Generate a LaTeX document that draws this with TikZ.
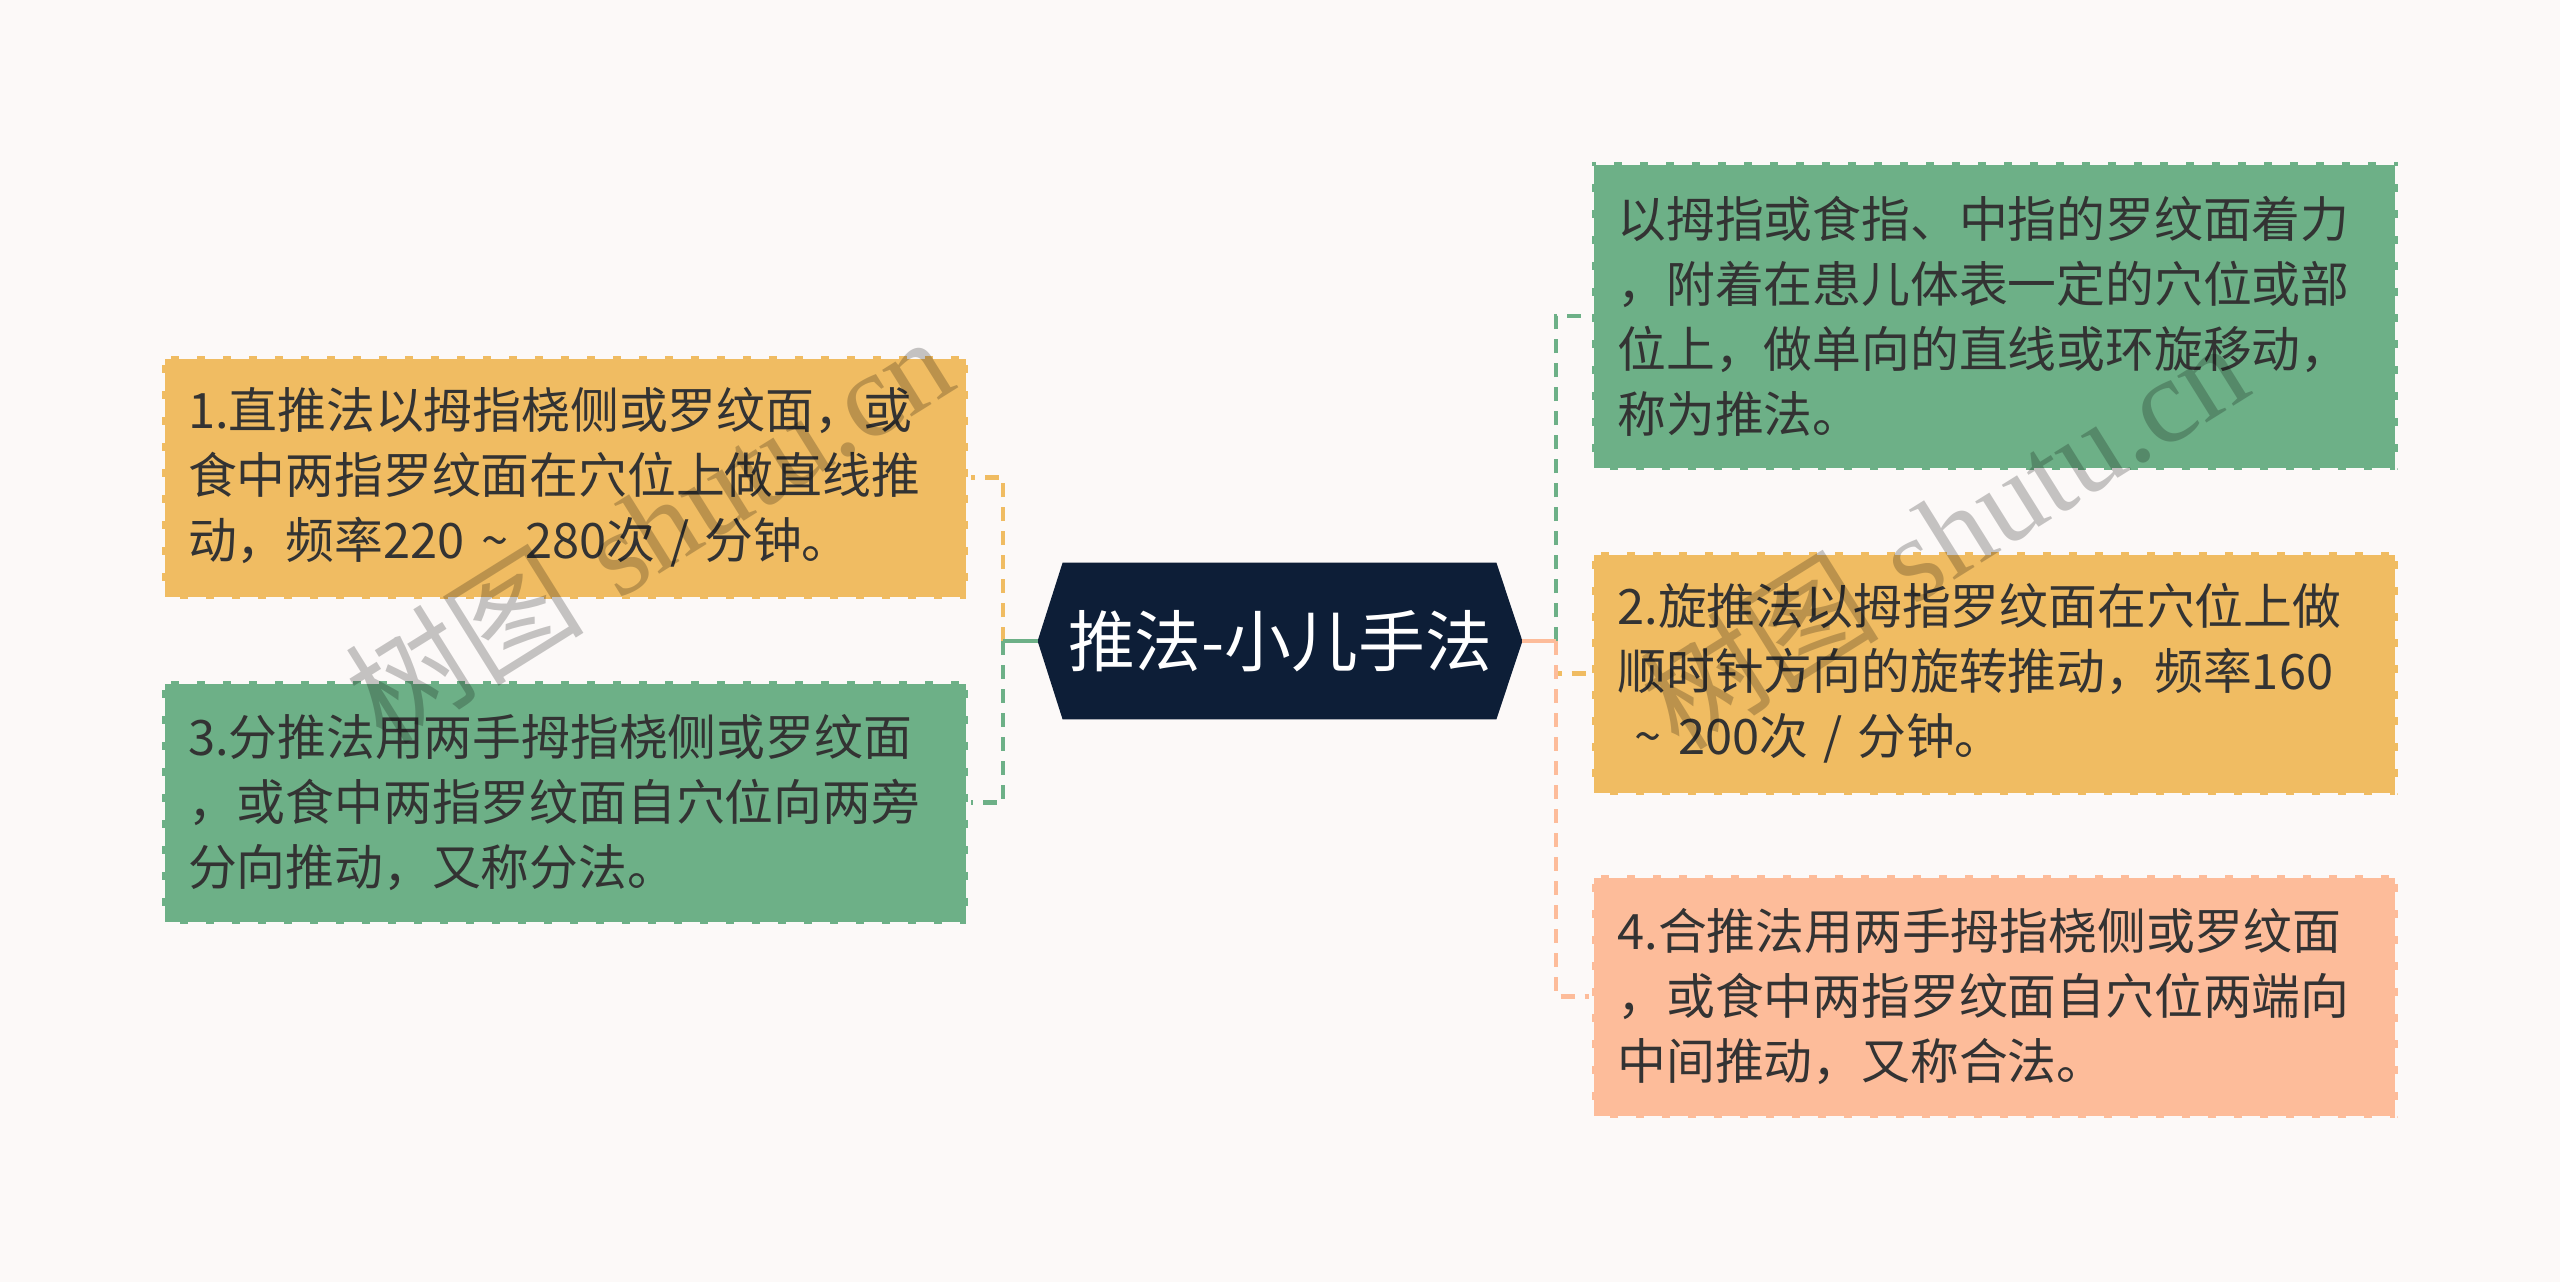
\documentclass[tikz,border=0pt]{standalone}
\usepackage{fontspec}
\newfontfamily\cjk{Noto Sans CJK SC}
\newfontfamily\wmserif{Liberation Serif}
\newcommand\fwtilde{\makebox[1.25em]{\char"007E}}
\newcommand\fwslash{\makebox[1em]{/}}
\definecolor{bgc}{HTML}{FCF9F8}
\definecolor{navy}{HTML}{0D1E37}
\definecolor{orangec}{HTML}{F0BC62}
\definecolor{greenc}{HTML}{6DB087}
\definecolor{peachc}{HTML}{FDBC9A}
\definecolor{txtc}{HTML}{333333}
\tikzset{
  leafbox/.style={rectangle, fill=#1, draw=bgc, line width=2.5pt, dash pattern=on 9pt off 4pt,
    text width=377pt, inner xsep=13pt, inner ysep=0pt, minimum height=121.5pt, align=left,
    text=txtc, font=\cjk\fontsize{24.4pt}{32.5pt}\selectfont},
  stub/.style={draw=#1, line width=2.4pt},
  dconn/.style={draw=#1, line width=2.4pt, dash pattern=on 7pt off 5pt},
  wm/.style={text=black, opacity=0.22, rotate=32, font=\fontsize{60pt}{64pt}\selectfont}
}
\begin{document}
\begin{tikzpicture}[x=0.5pt,y=-0.5pt]
\useasboundingbox (0,0) rectangle (2560,1282);
\fill[bgc] (0,0) rectangle (2560,1282);

% root
\node[rectangle, minimum width=242pt, minimum height=78pt, inner sep=0pt] (root) at (1280,641) {};
\fill[navy] (root.west) -- ([xshift=12.5pt]root.north west) -- ([xshift=-13pt]root.north east)
  -- (root.east) -- ([xshift=-13pt]root.south east) -- ([xshift=12.5pt]root.south west) -- cycle;
\node[text=white, font=\cjk\fontsize{33.4pt}{36pt}\selectfont, inner sep=0pt] (roottext) at (1280,641) {推法-小儿手法};

% leaves
\node[leafbox=orangec] (b1) at (565,477.5) {1.直推法以拇指桡侧或罗纹面，或\\食中两指罗纹面在穴位上做直线推\\动，频率220\fwtilde 280次\fwslash 分钟。};
\node[leafbox=greenc] (b3) at (565,802.5) {3.分推法用两手拇指桡侧或罗纹面\\，或食中两指罗纹面自穴位向两旁\\分向推动，又称分法。};
\node[leafbox=greenc, minimum height=154pt] (b0) at (1994.5,316) {以拇指或食指、中指的罗纹面着力\\，附着在患儿体表一定的穴位或部\\位上，做单向的直线或环旋移动，\\称为推法。};
\node[leafbox=orangec] (b2) at (1994.5,673.5) {2.旋推法以拇指罗纹面在穴位上做\\顺时针方向的旋转推动，频率160\\\fwtilde 200次\fwslash 分钟。};
\node[leafbox=peachc] (b4) at (1994.5,996.5) {4.合推法用两手拇指桡侧或罗纹面\\，或食中两指罗纹面自穴位两端向\\中间推动，又称合法。};

% trunks
\coordinate (lt) at (1003,641);
\coordinate (rt) at (1556,641);

% left connectors
\draw[dconn=orangec] (lt) |- (b1.east);
\draw[stub=orangec] (root.west) -- (lt);
\draw[dconn=greenc] (lt) |- (b3.east);
\draw[stub=greenc] (root.west) -- (lt);

% right connectors
\draw[dconn=greenc] (rt) |- (b0.west);
\draw[stub=greenc] (root.east) -- (rt);
\draw[dconn=orangec] (rt) |- (b2.west);
\draw[stub=orangec] (root.east) -- (rt);
\draw[dconn=peachc] (rt) |- (b4.west);
\draw[stub=peachc] (root.east) -- (rt);

% watermarks
\node[wm] (wm1) at (648,528) {{\cjk 树图} {\wmserif shutu.cn}};
\node[wm] (wm2) at (1943,534) {{\cjk 树图} {\wmserif shutu.cn}};
\end{tikzpicture}
\end{document}
